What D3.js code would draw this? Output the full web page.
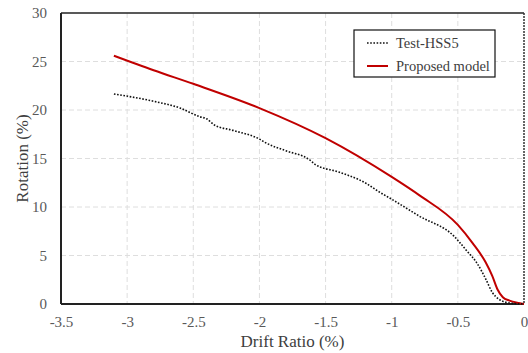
<!DOCTYPE html>
<meta charset="utf-8">
<script src="https://d3js.org/d3.v7.min.js"></script>
<style>
  body { margin: 0; background: #fff; }
</style>
<div id="chart"></div>
<script>

var FONT = "Liberation Serif";

// tick values
var xTicks = [-3.5, -3, -2.5, -2, -1.5, -1, -0.5, 0];
var yTicks = [0, 5, 10, 15, 20, 25, 30];

// Test-HSS5 (dotted)
var testX = [-3.1, -2.8, -2.6, -2.45, -2.4, -2.34, -2.2, -2.0, -1.95, -1.8, -1.62, -1.58, -1.4, -1.245, -1.195, -1.1, -1.0, -0.79, -0.53, -0.44, -0.35, -0.29, -0.24, -0.19, -0.13, -0.05, 0];
var testY = [21.65, 20.9, 20.2, 19.3, 19.1, 18.45, 17.9, 17.0, 16.6, 15.8, 14.85, 14.4, 13.6, 12.8, 12.45, 11.6, 10.8, 9.05, 7.0, 5.6, 4.1, 2.6, 1.2, 0.5, 0.15, 0.03, 0];

// Proposed model (red)
var modelX = [-3.1, -2.8, -2.5, -2.0, -1.5, -1.0, -0.79, -0.5, -0.39, -0.29, -0.24, -0.2, -0.16, -0.11, -0.04, 0];
var modelY = [25.6, 24.1, 22.7, 20.2, 17.1, 13.1, 11.2, 8.15, 6.3, 4.3, 2.9, 1.5, 0.7, 0.35, 0.1, 0];

var W = 528, H = 353;
var margin = {top: 13, right: 4, bottom: 49, left: 61};
var width = W - margin.left - margin.right,
    height = H - margin.top - margin.bottom;

var svg = d3.select("#chart").append("svg")
  .attr("width", W)
  .attr("height", H);

var g = svg.append("g")
  .attr("transform", "translate(" + margin.left + "," + margin.top + ")");

var x = d3.scaleLinear().domain([-3.5, 0]).range([0, width]);
var y = d3.scaleLinear().domain([0, 30]).range([height, 0]);

// grid lines
g.append("g")
  .selectAll("line")
  .data(xTicks.slice(1, -1))
  .enter().append("line")
  .attr("x1", d => x(d)).attr("x2", d => x(d))
  .attr("y1", 0).attr("y2", height)
  .style("stroke", "#dedede")
  .style("stroke-dasharray", "5,3");

g.append("g")
  .selectAll("line")
  .data(yTicks.slice(1, -1))
  .enter().append("line")
  .attr("x1", 0).attr("x2", width)
  .attr("y1", d => y(d)).attr("y2", d => y(d))
  .style("stroke", "#dedede")
  .style("stroke-dasharray", "5,3");

// axes
var xAxis = g.append("g")
  .attr("transform", "translate(0," + height + ")")
  .call(d3.axisBottom(x).tickValues(xTicks).tickSize(0).tickPadding(12).tickFormat(d => String(d)));
var yAxis = g.append("g")
  .call(d3.axisLeft(y).tickValues(yTicks).tickSize(0).tickPadding(14).tickFormat(d => String(d)));

[xAxis, yAxis].forEach(function(a) {
  a.attr("font-family", null).attr("font-size", null);
  a.select(".domain").remove();
  a.selectAll("text")
    .style("font-family", FONT)
    .style("font-size", "15px")
    .style("fill", "#595959");
});

// frame
g.append("line").attr("x1", 0).attr("x2", width).attr("y1", 0).attr("y2", 0)
  .style("stroke", "#222").style("stroke-width", 1.5);
g.append("line").attr("x1", width).attr("x2", width).attr("y1", 0).attr("y2", height)
  .style("stroke", "#333").style("stroke-width", 1.5).style("stroke-dasharray", "2,1");
g.append("line").attr("x1", 0).attr("x2", 0).attr("y1", 0).attr("y2", height)
  .style("stroke", "#222").style("stroke-width", 2);
g.append("line").attr("x1", 0).attr("x2", width).attr("y1", height).attr("y2", height)
  .style("stroke", "#222").style("stroke-width", 2);

// series
var line = d3.line()
  .x(d => x(d[0]))
  .y(d => y(d[1]))
  .curve(d3.curveMonotoneX);

var modelData = modelX.map((v, i) => [v, modelY[i]]);
var testData = testX.map((v, i) => [v, testY[i]]);

g.append("path")
  .datum(modelData)
  .attr("d", line)
  .style("fill", "none")
  .style("stroke", "#C00000")
  .style("stroke-width", 2);

g.append("path")
  .datum(testData)
  .attr("d", line)
  .style("fill", "none")
  .style("stroke", "#111")
  .style("stroke-width", 1.6)
  .style("stroke-dasharray", "1.6,1.6");

// legend
var leg = svg.append("g").attr("transform", "translate(354,30)");
leg.append("rect")
  .attr("width", 141).attr("height", 47)
  .style("fill", "#fff")
  .style("stroke", "#111")
  .style("stroke-width", 1.2);

leg.append("line").attr("x1", 13).attr("x2", 34).attr("y1", 13).attr("y2", 13)
  .style("stroke", "#111").style("stroke-width", 1.6).style("stroke-dasharray", "1.6,1.6");
leg.append("text").attr("x", 42).attr("y", 17.5).text("Test-HSS5")
  .style("font-family", FONT)
  .style("font-size", "14.5px").style("fill", "#404040");

leg.append("line").attr("x1", 13).attr("x2", 34).attr("y1", 36).attr("y2", 36)
  .style("stroke", "#C00000").style("stroke-width", 2);
leg.append("text").attr("x", 42).attr("y", 40.5).text("Proposed model")
  .style("font-family", FONT)
  .style("font-size", "14.5px").style("fill", "#404040");

// axis titles
svg.append("text")
  .attr("x", margin.left + width / 2)
  .attr("y", 347)
  .attr("text-anchor", "middle")
  .style("font-family", FONT)
  .style("font-size", "17px")
  .style("fill", "#404040")
  .text("Drift Ratio (%)");

svg.append("text")
  .attr("transform", "translate(28," + (margin.top + height / 2) + ") rotate(-90)")
  .attr("text-anchor", "middle")
  .style("font-family", FONT)
  .style("font-size", "17px")
  .style("fill", "#404040")
  .text("Rotation (%)");

</script>
